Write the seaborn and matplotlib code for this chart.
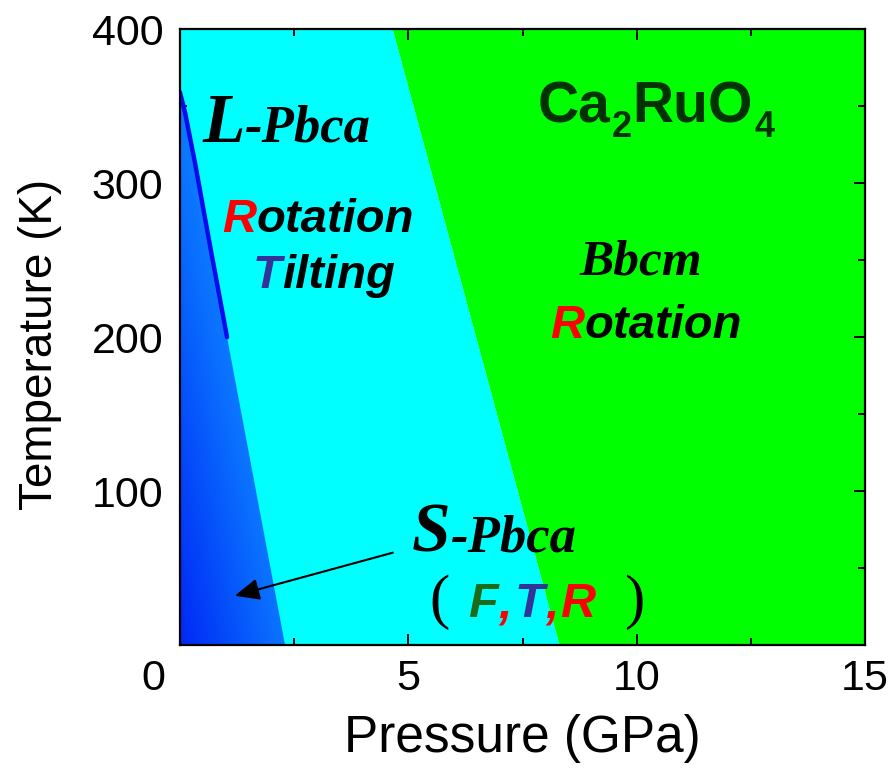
import numpy as np
import matplotlib
matplotlib.use("Agg")
import matplotlib.pyplot as plt
import seaborn as sns
from matplotlib.patches import Polygon
from matplotlib.colors import LinearSegmentedColormap
from matplotlib.transforms import ScaledTranslation

# ---------------- data ----------------
T_levels = [0, 400]                 # K
green_boundary_P = [8.3, 4.65]      # GPa, L-Pbca / Bbcm boundary at T_levels
line_P = [0.0, 0.11, 0.33, 0.66, 1.03]   # L/S-Pbca transition line
line_T = [359, 346, 313, 259, 200]
blue_edge_P = [1.03, 2.3]           # lower continuation of S-Pbca region
blue_edge_T = [200, 0]
x_ticks = [0, 5, 10, 15]
y_ticks = [100, 200, 300, 400]
x_label = "Pressure (GPa)"
y_label = "Temperature (K)"
arrow_tail = (4.66, 60)
arrow_head = (1.2, 32)

# ---------------- style ----------------
sns.set_theme(style="ticks")
plt.rcParams["font.family"] = ["Liberation Sans", "DejaVu Sans"]

fig = plt.figure(figsize=(8.91, 7.69), dpi=100)
ax = fig.add_axes([0.202, 0.1612, 0.769, 0.8008])
ax.set_xlim(0, 15)
ax.set_ylim(0, 400)

# phase regions
ax.fill_betweenx(T_levels, 0, green_boundary_P, color="#00ffff", lw=0, zorder=0)
ax.fill_betweenx(T_levels, green_boundary_P, 15, color="#00ff00", lw=0, zorder=0)

# blue gradient S-Pbca region
verts = [(0, 0)] + list(zip(line_P, line_T)) + list(zip(blue_edge_P, blue_edge_T))
poly = Polygon(verts, closed=True, facecolor="none", edgecolor="none")
ax.add_patch(poly)
gx, gy = np.meshgrid(np.linspace(0, 1, 200), np.linspace(0, 1, 200))
grad = np.clip(0.55 * gx + 0.6 * gy, 0, 1)
cmap = LinearSegmentedColormap.from_list("bl", ["#0028f5", "#0a70ff", "#1ca8ff"])
im = ax.imshow(grad, extent=[0, 2.4, 0, 360], origin="lower", cmap=cmap,
               aspect="auto", zorder=1, interpolation="bilinear")
im.set_clip_path(poly)
ax.set_xlim(0, 15)
ax.set_ylim(0, 400)

# transition line
sns.lineplot(x=line_P, y=line_T, sort=False, estimator=None, color="#0a0aee",
             lw=3.2, ax=ax, zorder=3)

# arrow
ax.annotate("", xy=arrow_head, xytext=arrow_tail,
            arrowprops=dict(arrowstyle="-|>,head_length=0.75,head_width=0.33",
                            mutation_scale=20, color="black", lw=1.5,
                            shrinkA=0, shrinkB=0), zorder=5)

# ---------------- axes ----------------
for s in ax.spines.values():
    s.set_visible(True)
    s.set_color("black")
    s.set_linewidth(1.6)
    s.set_zorder(6)
ax.set_xticks(x_ticks)
ax.set_xticklabels([""] + [str(v) for v in x_ticks[1:]])
ax.set_yticks(y_ticks)
ax.set_yticklabels([str(v) for v in y_ticks])
ax.set_xticks([2.5, 7.5, 12.5], minor=True)
ax.set_yticks([50, 150, 250, 350], minor=True)
ax.tick_params(which="both", direction="in", top=True, right=True, color="black",
               width=1.4, labelsize=31, labelcolor="black")
ax.tick_params(which="major", length=8)
ax.tick_params(which="minor", length=5)
ax.tick_params(axis="y", pad=12)
ax.tick_params(axis="x", pad=10)
ax.grid(False)
# corner "0" label, placed left of the origin as in the reference
ax.text(0, 0, str(x_ticks[0]), fontsize=31, color="black", ha="center", va="top",
        transform=ax.transData + ScaledTranslation(-0.27, -0.14, fig.dpi_scale_trans))

ax.set_xlabel(x_label, fontsize=37, color="black")
ax.set_ylabel(y_label, fontsize=33, color="black")
ax.xaxis.set_label_coords(0.5, -0.112)
ax.yaxis.set_label_coords(-0.172, 0.488)

# ---------------- rich annotations ----------------
SERIF_BI = dict(family="Liberation Serif", weight="bold", style="italic")
SANS_BI = dict(family="Liberation Sans", weight="bold", style="italic")
SANS_B = dict(family="Liberation Sans", weight="bold")
SERIF = dict(family="Liberation Serif")
RED = "#ff0000"
INDIGO = "#333399"
DKGREEN = "#1b6b1b"
FORMULA = "#003300"

renderer = fig.canvas.get_renderer()


def rich(x, y, pieces):
    dx, dy = ax.transData.transform((x, y))
    for s, props, size, color, gap, yoff in pieces:
        dx += gap
        xd, yd = ax.transData.inverted().transform((dx, dy - yoff))
        t = ax.text(xd, yd, s, ha="left", va="baseline", fontsize=size,
                    color=color, zorder=7, **props)
        bb = t.get_window_extent(renderer)
        dx = bb.x1


rich(0.50, 327, [("L", SERIF_BI, 50, "black", 0, 0),
                 ("-Pbca", SERIF_BI, 38, "black", 0, 0)])
rich(0.92, 268.5, [("R", SANS_BI, 34, RED, 0, 0),
                   ("otation", SANS_BI, 34, "black", 0, 0)])
rich(1.60, 232, [("T", SANS_BI, 34, INDIGO, 0, 0),
                 ("ilting", SANS_BI, 34, "black", 0, 0)])
rich(7.83, 339.5, [("Ca", SANS_B, 41, FORMULA, 0, 0),
                   ("2", SANS_B, 26, FORMULA, 1, 15),
                   ("RuO", SANS_B, 41, FORMULA, 1, 0),
                   ("4", SANS_B, 26, FORMULA, 2, 15)])
rich(8.75, 240.5, [("Bbcm", SERIF_BI, 37, "black", 0, 0)])
rich(8.10, 199.5, [("R", SANS_BI, 34, RED, 0, 0),
                   ("otation", SANS_BI, 34, "black", 0, 0)])
rich(5.08, 60.5, [("S", SERIF_BI, 50, "black", 0, 0),
                  ("-Pbca", SERIF_BI, 38, "black", 0, 0)])
rich(5.47, 18, [("(", SERIF, 44, "black", 0, 0),
                ("F", SANS_BI, 35, DKGREEN, 18, 0),
                (",", SANS_BI, 35, RED, 1, 0),
                ("T", SANS_BI, 35, INDIGO, 2, 0),
                (",", SANS_BI, 35, RED, 1, 0),
                ("R", SANS_BI, 35, RED, 2, 0),
                (")", SERIF, 44, "black", 28, 0)])

fig.savefig("out.png", dpi=100, facecolor="white")
